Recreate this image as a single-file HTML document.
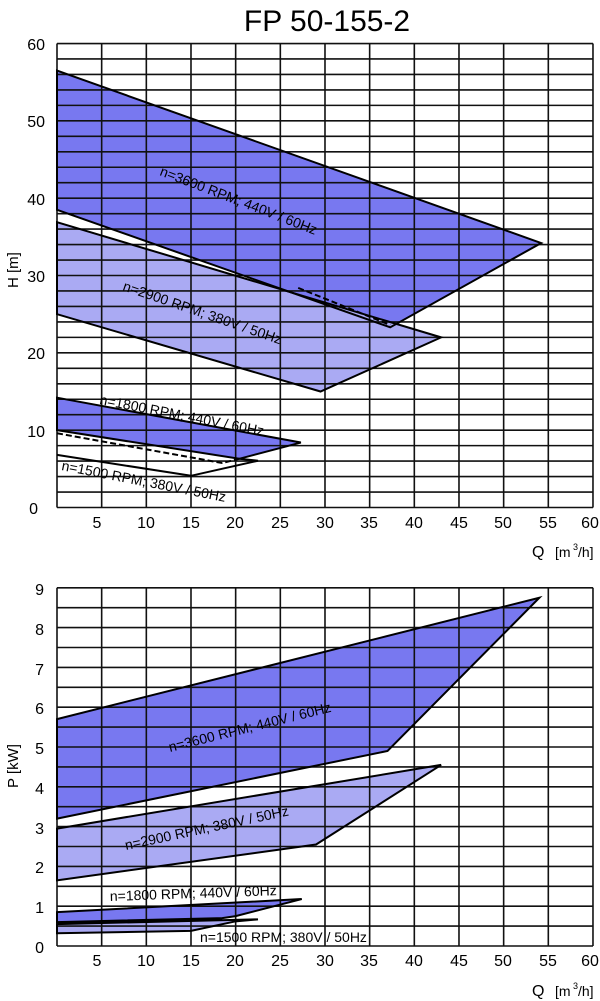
<!DOCTYPE html>
<html><head><meta charset="utf-8"><style>
html,body{margin:0;padding:0;background:#fff}
svg{display:block}
text{font-family:"Liberation Sans",sans-serif;fill:#000}
.g line{stroke:#111;stroke-width:1.6;vector-effect:non-scaling-stroke}
.o{fill:none;stroke:#000;stroke-width:2;vector-effect:non-scaling-stroke;stroke-linejoin:miter}
.d{fill:#7878f0}.l{fill:#aaaaf3}.w{fill:#fff}
</style></head><body>
<svg width="600" height="1001" viewBox="0 0 600 1001">
<text x="327" y="31" font-size="30" text-anchor="middle">FP 50-155-2</text>

<!-- TOP -->
<g transform="translate(57,507.5) scale(8.933,-7.733)">
<polygon class="d" points="0,56.5 54.2,34.2 37.3,23.3 0,38.5"/>
<polygon class="l" points="0,36.9 43,22 29.5,15 0,25"/>
<polygon class="d" points="0,14.2 27.3,8.4 20.4,6.3 0,10"/>
<polygon class="w" points="0,6.8 15,4.1 22.5,6.05 20.4,6.3 0,10"/>
<g class="g">
<line x1="0" y1="0" x2="0" y2="60"/><line x1="5" y1="0" x2="5" y2="60"/><line x1="10" y1="0" x2="10" y2="60"/><line x1="15" y1="0" x2="15" y2="60"/><line x1="20" y1="0" x2="20" y2="60"/><line x1="25" y1="0" x2="25" y2="60"/><line x1="30" y1="0" x2="30" y2="60"/><line x1="35" y1="0" x2="35" y2="60"/><line x1="40" y1="0" x2="40" y2="60"/><line x1="45" y1="0" x2="45" y2="60"/><line x1="50" y1="0" x2="50" y2="60"/><line x1="55" y1="0" x2="55" y2="60"/><line x1="60" y1="0" x2="60" y2="60"/>
<line x1="0" y1="0" x2="60" y2="0"/><line x1="0" y1="2" x2="60" y2="2"/><line x1="0" y1="4" x2="60" y2="4"/><line x1="0" y1="6" x2="60" y2="6"/><line x1="0" y1="8" x2="60" y2="8"/><line x1="0" y1="10" x2="60" y2="10"/><line x1="0" y1="12" x2="60" y2="12"/><line x1="0" y1="14" x2="60" y2="14"/><line x1="0" y1="16" x2="60" y2="16"/><line x1="0" y1="18" x2="60" y2="18"/><line x1="0" y1="20" x2="60" y2="20"/><line x1="0" y1="22" x2="60" y2="22"/><line x1="0" y1="24" x2="60" y2="24"/><line x1="0" y1="26" x2="60" y2="26"/><line x1="0" y1="28" x2="60" y2="28"/><line x1="0" y1="30" x2="60" y2="30"/><line x1="0" y1="32" x2="60" y2="32"/><line x1="0" y1="34" x2="60" y2="34"/><line x1="0" y1="36" x2="60" y2="36"/><line x1="0" y1="38" x2="60" y2="38"/><line x1="0" y1="40" x2="60" y2="40"/><line x1="0" y1="42" x2="60" y2="42"/><line x1="0" y1="44" x2="60" y2="44"/><line x1="0" y1="46" x2="60" y2="46"/><line x1="0" y1="48" x2="60" y2="48"/><line x1="0" y1="50" x2="60" y2="50"/><line x1="0" y1="52" x2="60" y2="52"/><line x1="0" y1="54" x2="60" y2="54"/><line x1="0" y1="56" x2="60" y2="56"/><line x1="0" y1="58" x2="60" y2="58"/><line x1="0" y1="60" x2="60" y2="60"/>
</g>
<polygon class="o" points="0,56.5 54.2,34.2 37.3,23.3 0,38.5"/>
<polygon class="o" points="0,36.9 43,22 29.5,15 0,25"/>
<polyline class="o" points="27,28.4 37.3,23.6" stroke-dasharray="6 3"/>
<polygon class="o" points="0,14.2 27.3,8.4 20.4,6.3 0,10"/>
<polyline class="o" points="0,9.6 18.5,5.75 20.4,6.3" stroke-dasharray="6 3"/>
<polyline class="o" points="20.4,6.3 22.5,6.05 15,4.1 0,6.8"/>
</g>
<g font-size="14">
<text transform="translate(159,175) rotate(21)">n=3600 RPM; 440V / 60Hz</text>
<text transform="translate(122,290) rotate(19)">n=2900 RPM; 380V / 50Hz</text>
<text transform="translate(99,404) rotate(11)">n=1800 RPM; 440V / 60Hz</text>
<text transform="translate(61,470) rotate(11)">n=1500 RPM; 380V / 50Hz</text>
</g>
<g font-size="16" text-anchor="end">
<text x="45" y="50">60</text><text x="45" y="127">50</text><text x="45" y="205">40</text><text x="45" y="282">30</text><text x="45" y="359">20</text><text x="45" y="437">10</text><text x="38" y="514">0</text>
</g>
<g font-size="16" text-anchor="middle">
<text x="97" y="528">5</text><text x="146" y="528">10</text><text x="191" y="528">15</text><text x="235" y="528">20</text><text x="280" y="528">25</text><text x="325" y="528">30</text><text x="369" y="528">35</text><text x="414" y="528">40</text><text x="459" y="528">45</text><text x="503" y="528">50</text><text x="548" y="528">55</text><text x="590" y="528">60</text>
</g>
<text transform="translate(18,288) rotate(-90)" font-size="15">H [m]</text>
<text x="532" y="557" font-size="16">Q</text><text x="555" y="557" font-size="14">[m</text><text x="573" y="550" font-size="9">3</text><text x="578" y="557" font-size="14">/h]</text>

<!-- BOTTOM -->
<g transform="translate(57,946) scale(8.933,-39.8)">
<polygon class="d" points="0,5.7 54,8.75 37,4.9 0,3.2"/>
<polygon class="l" points="0,2.95 43,4.55 29,2.55 0,1.65"/>
<polygon class="d" points="0,0.85 27.4,1.18 20,0.75 18.5,0.7 0,0.6"/>
<polygon class="l" points="0,0.55 22.5,0.67 20,0.62 15,0.38 0,0.32"/>
<g class="g">
<line x1="0" y1="0" x2="0" y2="9"/><line x1="5" y1="0" x2="5" y2="9"/><line x1="10" y1="0" x2="10" y2="9"/><line x1="15" y1="0" x2="15" y2="9"/><line x1="20" y1="0" x2="20" y2="9"/><line x1="25" y1="0" x2="25" y2="9"/><line x1="30" y1="0" x2="30" y2="9"/><line x1="35" y1="0" x2="35" y2="9"/><line x1="40" y1="0" x2="40" y2="9"/><line x1="45" y1="0" x2="45" y2="9"/><line x1="50" y1="0" x2="50" y2="9"/><line x1="55" y1="0" x2="55" y2="9"/><line x1="60" y1="0" x2="60" y2="9"/>
<line x1="0" y1="0" x2="60" y2="0"/><line x1="0" y1="0.5" x2="60" y2="0.5"/><line x1="0" y1="1" x2="60" y2="1"/><line x1="0" y1="1.5" x2="60" y2="1.5"/><line x1="0" y1="2" x2="60" y2="2"/><line x1="0" y1="2.5" x2="60" y2="2.5"/><line x1="0" y1="3" x2="60" y2="3"/><line x1="0" y1="3.5" x2="60" y2="3.5"/><line x1="0" y1="4" x2="60" y2="4"/><line x1="0" y1="4.5" x2="60" y2="4.5"/><line x1="0" y1="5" x2="60" y2="5"/><line x1="0" y1="5.5" x2="60" y2="5.5"/><line x1="0" y1="6" x2="60" y2="6"/><line x1="0" y1="6.5" x2="60" y2="6.5"/><line x1="0" y1="7" x2="60" y2="7"/><line x1="0" y1="7.5" x2="60" y2="7.5"/><line x1="0" y1="8" x2="60" y2="8"/><line x1="0" y1="8.5" x2="60" y2="8.5"/><line x1="0" y1="9" x2="60" y2="9"/>
</g>
<polygon class="o" points="0,5.7 54,8.75 37,4.9 0,3.2"/>
<polygon class="o" points="0,2.95 43,4.55 29,2.55 0,1.65"/>
<polygon class="o" points="0,0.85 27.4,1.18 20,0.75 18.5,0.7 0,0.6"/>
<polygon class="o" points="0,0.55 22.5,0.67 20,0.62 15,0.38 0,0.32"/>
<polyline class="o" points="0,0.58 18.5,0.68"/>
</g>
<g font-size="14">
<text transform="translate(170,752) rotate(-14)">n=3600 RPM; 440V / 60Hz</text>
<text transform="translate(126,850) rotate(-12)">n=2900 RPM; 380V / 50Hz</text>
<text transform="translate(110,901) rotate(-2)">n=1800 RPM; 440V / 60Hz</text>
<text x="200" y="942">n=1500 RPM; 380V / 50Hz</text>
</g>
<g font-size="16" text-anchor="end">
<text x="44" y="595">9</text><text x="44" y="635">8</text><text x="44" y="675">7</text><text x="44" y="714">6</text><text x="44" y="754">5</text><text x="44" y="794">4</text><text x="44" y="834">3</text><text x="44" y="873">2</text><text x="44" y="913">1</text><text x="44" y="953">0</text>
</g>
<g font-size="16" text-anchor="middle">
<text x="97" y="966">5</text><text x="146" y="966">10</text><text x="191" y="966">15</text><text x="235" y="966">20</text><text x="280" y="966">25</text><text x="325" y="966">30</text><text x="369" y="966">35</text><text x="414" y="966">40</text><text x="459" y="966">45</text><text x="503" y="966">50</text><text x="548" y="966">55</text><text x="590" y="966">60</text>
</g>
<text transform="translate(18,788) rotate(-90)" font-size="15">P [kW]</text>
<text x="532" y="996" font-size="16">Q</text><text x="555" y="996" font-size="14">[m</text><text x="573" y="989" font-size="9">3</text><text x="578" y="996" font-size="14">/h]</text>
</svg>
</body></html>
